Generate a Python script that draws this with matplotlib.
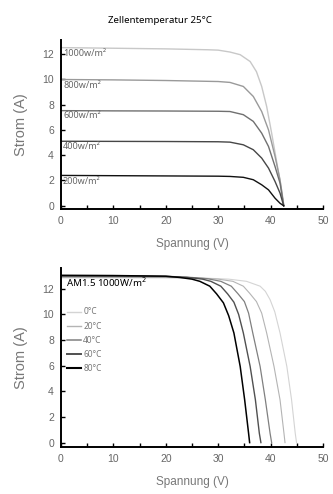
import numpy as np
import matplotlib
matplotlib.use('Agg')
import matplotlib.pyplot as plt
from matplotlib.ticker import MultipleLocator

plt.rcParams['font.family'] = ['Liberation Sans', 'DejaVu Sans']

# top chart: irradiance at 25 C
irr_labels = ['1000w/m²', '800w/m²', '600w/m²', '400w/m²', '200w/m²']
irr_colors = ['#c8c8c8', '#9a9a9a', '#707070', '#474747', '#111111']
irr_label_y = [12.0, 9.5, 7.1, 4.7, 1.9]

v_1000 = [0, 10, 20, 28, 30, 32.25, 34.2, 36.1, 37.3, 38.3, 39.25, 40.2, 41.2, 42.1, 42.55]
i_1000 = [12.5, 12.45, 12.4, 12.33, 12.3, 12.15, 11.94, 11.4, 10.6, 9.43, 7.85, 5.74, 3.37, 1.26, 0]
v_irr = [0, 10, 20, 30, 32.25, 34.8, 36.7, 38.3, 39.6, 40.85, 41.8, 42.5]
i_800 = [9.98, 9.95, 9.9, 9.82, 9.75, 9.43, 8.64, 7.45, 6.0, 3.9, 2.05, 0]
i_600 = [7.52, 7.5, 7.49, 7.47, 7.45, 7.2, 6.67, 5.74, 4.69, 3.1, 1.79, 0]
i_400 = [5.1, 5.09, 5.08, 5.06, 5.03, 4.82, 4.43, 3.77, 2.98, 1.92, 1.0, 0]
i_200 = [2.4, 2.38, 2.36, 2.34, 2.32, 2.25, 2.06, 1.66, 1.26, 0.6, 0.2, 0]

# bottom chart: temperature at AM1.5 1000W/m2
temp_labels = ['0°C', '20°C', '40°C', '60°C', '80°C']
temp_colors = ['#d4d4d4', '#b4b4b4', '#808080', '#505050', '#000000']
temp_widths = [0.8, 0.8, 0.9, 1.0, 1.1]

v_0 = [0, 10, 20, 28, 32, 35.4, 38.0, 39.0, 39.9, 40.8, 41.8, 43.1, 44.0, 44.7, 44.95]
i_0 = [12.85, 12.85, 12.85, 12.82, 12.75, 12.58, 12.2, 11.8, 11.15, 10.2, 8.55, 5.94, 3.34, 0.73, 0]
v_20 = [0, 10, 20, 26, 30, 32.8, 34.8, 36.0, 37.3, 38.3, 39.25, 40.65, 41.8, 42.55, 42.75]
i_20 = [12.9, 12.9, 12.88, 12.85, 12.75, 12.58, 12.2, 11.65, 11.0, 10.1, 8.55, 5.94, 3.34, 0.73, 0]
v_40 = [0, 10, 20, 25, 28, 30.5, 32.5, 33.8, 35.0, 35.8, 36.6, 38.0, 39.0, 39.9, 40.2]
i_40 = [12.95, 12.95, 12.93, 12.88, 12.78, 12.58, 12.2, 11.6, 11.0, 10.1, 8.55, 5.94, 3.34, 0.73, 0]
v_60 = [0, 10, 20, 24, 27, 28.6, 30.5, 31.8, 33.0, 33.9, 34.8, 36.1, 37.1, 37.85, 38.15]
i_60 = [13.0, 13.0, 12.97, 12.9, 12.75, 12.58, 12.2, 11.6, 10.95, 10.0, 8.55, 5.94, 3.34, 0.73, 0]
v_80 = [0, 10, 20, 22.7, 25, 26.5, 28.4, 29.7, 31.0, 32.0, 33.0, 34.2, 35.05, 35.8, 36.0]
i_80 = [13.05, 13.03, 12.98, 12.88, 12.75, 12.58, 12.2, 11.6, 10.9, 9.9, 8.55, 5.94, 3.34, 0.73, 0]

tick_col = '#666666'
label_col = '#777777'


def style_axes(ax, ymax, ymin):
    ax.set_xlim(0, 50)
    ax.set_ylim(ymin, ymax)
    for s in ['top', 'right']:
        ax.spines[s].set_visible(False)
    for s in ['left', 'bottom']:
        ax.spines[s].set_linewidth(1.4)
    ax.xaxis.set_major_locator(MultipleLocator(10))
    ax.xaxis.set_minor_locator(MultipleLocator(5))
    ax.yaxis.set_major_locator(MultipleLocator(2))
    ax.tick_params(which='both', direction='in', length=3, width=1, colors='black',
                   labelcolor=tick_col, labelsize=7.5, pad=5)
    ax.set_xlabel('Spannung (V)', color=label_col, fontsize=8.5, labelpad=9)
    ax.set_ylabel('Strom (A)', color=label_col, fontsize=10.5, labelpad=10)


fig = plt.figure(figsize=(3.33, 4.94), dpi=100)

ax1 = fig.add_axes([0.183, 0.577, 0.787, 0.342])
irr_i = [i_1000, i_800, i_600, i_400, i_200]
irr_v = [v_1000, v_irr, v_irr, v_irr, v_irr]
for v, i, c, lab, ly in zip(irr_v, irr_i, irr_colors, irr_labels, irr_label_y):
    ax1.plot(v, i, color=c, lw=1.0)
    ax1.text(0.4, ly, lab, fontsize=6.5, color='#666666', ha='left', va='center',
             family=['Noto Sans', 'DejaVu Sans'])
style_axes(ax1, 13.1, -0.25)
fig.text(0.48, 0.958, 'Zellentemperatur 25°C', fontsize=7, ha='center', va='center',
         family=['Noto Sans', 'DejaVu Sans'])

ax2 = fig.add_axes([0.183, 0.096, 0.787, 0.361])
temp_v = [v_0, v_20, v_40, v_60, v_80]
temp_i = [i_0, i_20, i_40, i_60, i_80]
for v, i, c, w, lab in zip(temp_v, temp_i, temp_colors, temp_widths, temp_labels):
    ax2.plot(v, i, color=c, lw=w, label=lab)
style_axes(ax2, 13.6, -0.31)
ax2.text(1.0, 12.55, 'AM1.5 1000W/m$^2$', fontsize=7, color='black', ha='left', va='center',
         family=['Noto Sans', 'DejaVu Sans'])
leg = ax2.legend(loc='upper left', bbox_to_anchor=(0.022, 0.78), frameon=False,
                 handlelength=1.7, handletextpad=0.3, labelspacing=0.62,
                 borderpad=0, borderaxespad=0, labelcolor='#777777',
                 prop={'family': ['Noto Sans', 'DejaVu Sans'], 'size': 6})
for ln, w in zip(leg.get_lines(), [1.0, 1.0, 1.1, 1.4, 1.5]):
    ln.set_linewidth(w)

fig.savefig('out.png', dpi=100)
